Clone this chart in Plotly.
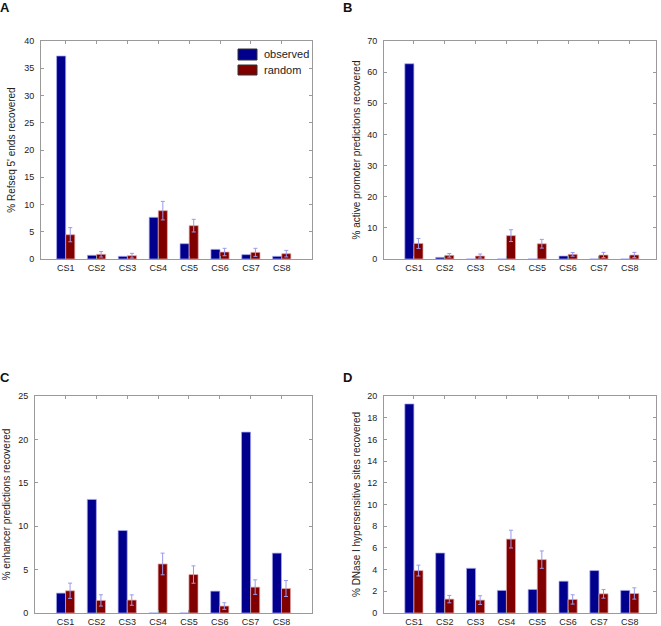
import plotly.graph_objects as go

categories = ["CS1", "CS2", "CS3", "CS4", "CS5", "CS6", "CS7", "CS8"]
xpos = [1, 2, 3, 4, 5, 6, 7, 8]

# Panel A: % Refseq 5' ends recovered
a_observed = [37.25, 0.68, 0.49, 7.65, 2.81, 1.77, 0.8, 0.49]
a_random = [4.46, 0.86, 0.61, 8.87, 6.12, 1.28, 1.22, 0.98]
a_err = [1.3, 0.5, 0.43, 1.7, 1.16, 0.68, 0.74, 0.6]

# Panel B: % active promoter predictions recovered
b_observed = [62.7, 0.53, 0, 0, 0, 0.96, 0, 0]
b_random = [5.0, 1.18, 0.96, 7.5, 4.9, 1.5, 1.28, 1.28]
b_err = [1.6, 0.6, 0.64, 1.9, 1.4, 0.6, 0.85, 0.85]

# Panel C: % enhancer predictions recovered
c_observed = [2.29, 13.09, 9.5, 0, 0, 2.52, 20.84, 6.9]
c_random = [2.56, 1.45, 1.49, 5.65, 4.43, 0.8, 2.98, 2.82]
c_err = [0.88, 0.65, 0.6, 1.25, 1.0, 0.38, 0.84, 0.92]

# Panel D: % DNase I hypersensitive sites recovered
d_observed = [19.27, 5.53, 4.12, 2.08, 2.17, 2.93, 3.91, 2.08]
d_random = [3.91, 1.28, 1.19, 6.81, 4.92, 1.25, 1.77, 1.8]
d_err = [0.5, 0.34, 0.4, 0.82, 0.8, 0.43, 0.4, 0.52]

legend_labels = ["observed", "random"]

panels = [
    ("A", a_observed, a_random, a_err, "% Refseq 5' ends recovered", [0, 5, 10, 15, 20, 25, 30, 35, 40], [0, 40], [0.2, 8.98], (41, 312), (41, 259), 6),
    ("B", b_observed, b_random, b_err, "% active promoter predictions recovered", [0, 10, 20, 30, 40, 50, 60, 70], [0, 70], [0.03, 8.85], (384, 656), (41, 259), 4),
    ("C", c_observed, c_random, c_err, "% enhancer predictions recovered", [0, 5, 10, 15, 20, 25], [0, 25], [0.01, 8.99], (35, 312), (396, 613), 5),
    ("D", d_observed, d_random, d_err, "% DNase I hypersensitive sites recovered", [0, 2, 4, 6, 8, 10, 12, 14, 16, 18, 20], [0, 20], [0.03, 8.85], (384, 656), (396, 613), 4),
]

W, H = 661, 626
BLUE = "#00008c"
RED = "#800000"
AXC = "#9a9a9a"
TXT = "#222222"
FONT = "Liberation Sans, Arial, sans-serif"

fig = go.Figure()
layout = dict(
    width=W, height=H, margin=dict(l=0, r=0, t=0, b=0, pad=0, autoexpand=False),
    paper_bgcolor="white", plot_bgcolor="white",
    barmode="group", bargap=0.41, bargroupgap=0,
    font=dict(family=FONT, size=9, color=TXT),
    showlegend=False,
)
annotations = []
shapes = []
for i, (lab, obs, rnd, err, ytitle, yticks, yr, xr, (x0, x1), (y0, y1), so) in enumerate(panels):
    n = "" if i == 0 else str(i + 1)
    xa, ya = "x" + n, "y" + n
    fig.add_trace(go.Bar(
        x=xpos, y=obs, name=legend_labels[0], xaxis=xa, yaxis=ya,
        marker=dict(color=BLUE, line=dict(color="rgba(170,170,240,0.9)", width=0.8)),
        offsetgroup="obs",
    ))
    fig.add_trace(go.Bar(
        x=xpos, y=rnd, name=legend_labels[1], xaxis=xa, yaxis=ya,
        marker=dict(color=RED, line=dict(color="rgba(230,170,170,0.9)", width=0.8)),
        error_y=dict(type="data", array=err, visible=True, color="#9a9aee", thickness=1, width=2),
        offsetgroup="rnd",
    ))
    layout["xaxis" + n] = dict(
        domain=[x0 / W, x1 / W], anchor=ya, range=xr,
        tickvals=xpos, ticktext=categories, ticks="inside", ticklen=3,
        tickcolor=AXC, showline=True, linecolor=AXC, linewidth=1, mirror="ticks",
        showgrid=False, zeroline=False, tickfont=dict(size=9, color=TXT),
        automargin=False,
    )
    layout["yaxis" + n] = dict(
        domain=[1 - y1 / H, 1 - y0 / H], anchor=xa, range=yr,
        tickvals=yticks, ticks="inside", ticklen=3, tickcolor=AXC,
        showline=True, linecolor=AXC, linewidth=1, mirror="ticks",
        showgrid=False, zeroline=False, tickfont=dict(size=9, color=TXT),
        ticklabelstandoff=4,
        title=dict(text=ytitle, font=dict(size=10, color=TXT), standoff=so),
        automargin=False,
    )
    lx = 5 if i % 2 == 0 else 347
    ly = 8 if i < 2 else 377
    annotations.append(dict(
        text="<b>" + lab + "</b>", x=lx / W, y=1 - ly / H, xref="paper", yref="paper",
        showarrow=False, xanchor="center", yanchor="middle",
        font=dict(size=13, color="#111111", family=FONT),
    ))

# legend drawn in panel A (paper coordinates)
for k, (col, yt, yb) in enumerate([(BLUE, 49, 60), (RED, 65, 75)]):
    shapes.append(dict(type="rect", xref="paper", yref="paper",
                       x0=238 / W, x1=257 / W, y0=1 - yb / H, y1=1 - yt / H,
                       fillcolor=col, line=dict(color="#333333", width=1)))
    annotations.append(dict(text=legend_labels[k], x=262 / W, y=1 - (yt + yb) / 2 / H,
                            xref="paper", yref="paper", showarrow=False,
                            xanchor="left", yanchor="middle",
                            font=dict(size=11, color=TXT, family=FONT)))

layout["annotations"] = annotations
layout["shapes"] = shapes
fig.update_layout(**layout)
fig.write_html(
    "out.html",
    config={"displayModeBar": False},
    post_script="document.body.style.margin='0';document.body.style.padding='0';document.body.style.overflow='hidden';",
)
